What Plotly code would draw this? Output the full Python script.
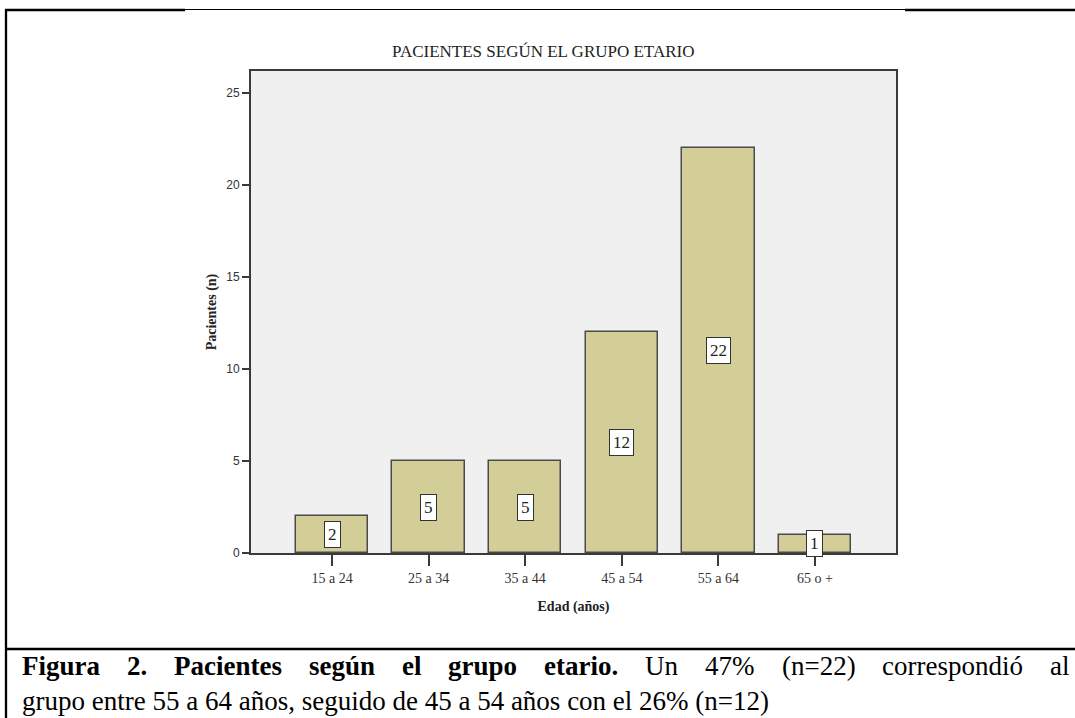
import plotly.graph_objects as go

# Age groups and patient counts
grupos = ["15 a 24", "25 a 34", "35 a 44", "45 a 54", "55 a 64", "65 o +"]
pacientes = [2, 5, 5, 12, 22, 1]

titulo = "PACIENTES SEGÚN EL GRUPO ETARIO"
titulo_x = "Edad (años)"
titulo_y = "Pacientes (n)"

# Caption text: bold lead-in words and regular words on the first (justified) line
leyenda_negrita = ["Figura", "2.", "Pacientes", "según", "el", "grupo", "etario."]
leyenda_normal = ["Un", "47%", "(n=22)", "correspondió", "al"]
leyenda_linea2 = "grupo entre 55 a 64 años, seguido de 45 a 54 años con el 26% (n=12)"

W, H = 1075, 718
L, R, T, B = 251, 896, 71, 553  # plot area in pixels


def px(x):
    return (x - L) / (R - L)


def py(y):
    return (B - y) / (B - T)


fig = go.Figure()
fig.add_trace(go.Bar(
    x=grupos, y=pacientes, width=0.75,
    marker=dict(color="#d3ce98", line=dict(color="#4a4a4a", width=1.5)),
    hoverinfo="skip",
))

annotations = []
# value labels in white boxes at the middle of each bar
for g, v in zip(grupos, pacientes):
    annotations.append(dict(
        x=g, y=v / 2, xref="x", yref="y", text=str(v), showarrow=False,
        font=dict(family="Liberation Serif", size=17, color="#222"),
        bgcolor="white", bordercolor="#333", borderwidth=1, borderpad=3,
        xanchor="center", yanchor="middle",
    ))

# caption, first line: justified word start positions (equal inter-word gaps)
cap_font = 27
x_negrita = [20, 125, 172, 307, 400, 446, 542]
x_normal = [643, 703, 780, 880, 1048]
for w, x in zip(leyenda_negrita, x_negrita):
    annotations.append(dict(
        x=px(x), y=py(666), xref="paper", yref="paper", text=f"<b>{w}</b>",
        showarrow=False, xanchor="left", yanchor="middle",
        font=dict(family="Liberation Serif", size=cap_font, color="black"),
    ))
for w, x in zip(leyenda_normal, x_normal):
    annotations.append(dict(
        x=px(x), y=py(666), xref="paper", yref="paper", text=w,
        showarrow=False, xanchor="left", yanchor="middle",
        font=dict(family="Liberation Serif", size=cap_font, color="black"),
    ))
annotations.append(dict(
    x=px(20), y=py(701), xref="paper", yref="paper", text=leyenda_linea2,
    showarrow=False, xanchor="left", yanchor="middle",
    font=dict(family="Liberation Serif", size=cap_font, color="black"),
))

# chart title
annotations.append(dict(
    x=px(543), y=py(52), xref="paper", yref="paper", text=titulo,
    showarrow=False, xanchor="center", yanchor="middle",
    font=dict(family="Liberation Serif", size=17, color="#222"),
))

# page frame lines
shapes = [
    dict(type="line", xref="paper", yref="paper", x0=px(5), x1=px(185), y0=py(10), y1=py(10),
         line=dict(color="black", width=2.5)),
    dict(type="line", xref="paper", yref="paper", x0=px(185), x1=px(905), y0=py(9.5), y1=py(9.5),
         line=dict(color="black", width=1)),
    dict(type="line", xref="paper", yref="paper", x0=px(905), x1=px(1075), y0=py(10), y1=py(10),
         line=dict(color="black", width=2.5)),
    dict(type="line", xref="paper", yref="paper", x0=px(6), x1=px(6), y0=py(9), y1=py(718),
         line=dict(color="black", width=2.3)),
    dict(type="line", xref="paper", yref="paper", x0=px(5), x1=px(1075), y0=py(649), y1=py(649),
         line=dict(color="black", width=2.3)),
]

fig.update_layout(
    width=W, height=H,
    margin=dict(l=L, r=W - R, t=T, b=H - B),
    paper_bgcolor="white", plot_bgcolor="#f0f0f0",
    showlegend=False,
    annotations=annotations, shapes=shapes,
    bargap=0,
)
fig.update_xaxes(
    type="category", range=[-0.84, 5.84],
    showgrid=False, zeroline=False,
    showline=True, linecolor="#3a3a3a", linewidth=2, mirror=True,
    ticks="outside", ticklen=11, tickwidth=1.5, tickcolor="#3a3a3a",
    tickfont=dict(family="Liberation Serif", size=14, color="#333"),
    title=dict(text=f"<b>{titulo_x}</b>", standoff=16,
               font=dict(family="Liberation Serif", size=14, color="#222")),
)
fig.update_yaxes(
    range=[0, 26.2], tickvals=[0, 5, 10, 15, 20, 25],
    showgrid=False, zeroline=False,
    showline=True, linecolor="#3a3a3a", linewidth=2, mirror=True,
    ticks="outside", ticklen=7, tickwidth=1.5, tickcolor="#3a3a3a",
    tickfont=dict(family="Liberation Sans", size=12, color="#333"),
    title=dict(text=f"<b>{titulo_y}</b>", standoff=6,
               font=dict(family="Liberation Serif", size=14, color="#222")),
)

fig.write_html("out.html")
